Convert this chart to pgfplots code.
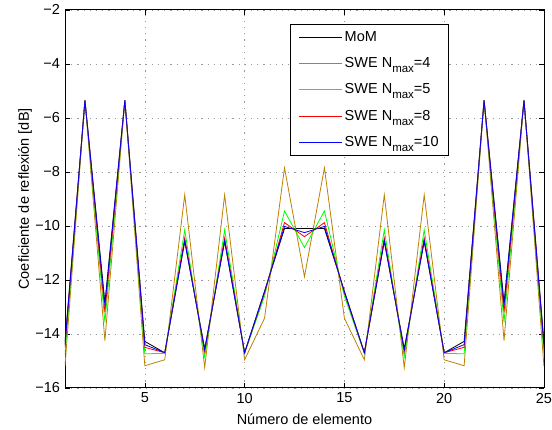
\documentclass[border=0pt]{standalone}
\usepackage{pgfplots}
\pgfplotsset{compat=1.18}
\usepackage{fontspec}
\setmainfont{Liberation Sans}
\definecolor{swefour}{RGB}{191,128,0}
\definecolor{swefive}{RGB}{0,255,0}
\definecolor{sweeight}{RGB}{255,0,0}
\definecolor{sweten}{RGB}{0,0,255}
\newcommand{\nmax}{N\raisebox{-5bp}{\fontsize{11.5bp}{12bp}\selectfont max}}
\begin{document}
\fontsize{14.5bp}{17bp}\selectfont
\begin{tikzpicture}
\begin{axis}[
  scale only axis,
  width=479bp, height=378bp,
  xmin=1, xmax=25, ymin=-16, ymax=-2,
  xtick={5,10,15,20,25},
  xticklabels={5,10,15,20,25},
  ytick={-16,-14,-12,-10,-8,-6,-4,-2},
  yticklabels={−16,−14,−12,−10,−8,−6,−4,−2},
  tick label style={font=\fontsize{14.5bp}{17bp}\selectfont},
  xticklabel style={inner xsep=0bp},
  label style={font=\fontsize{14.5bp}{17bp}\selectfont},
  xlabel={Número de elemento},
  ylabel={Coeficiente de reflexión [dB]},
  ylabel style={at={(axis description cs:0,0.5)}, anchor=south, yshift=28bp},
  xlabel style={yshift=-1bp},
  grid=major,
  major grid style={draw=gray!80, line width=0.6bp, dash pattern=on 1.2bp off 5bp},
  axis line style={line width=0.8bp},
  major tick length=5bp,
  tick style={line width=0.6bp, black},
  legend cell align=left,
  legend style={at={(0.8017,0.963)}, anchor=north east, draw=black, line width=0.8bp,
    font=\fontsize{14.5bp}{17bp}\selectfont, row sep=10bp, inner xsep=8bp, inner ysep=5bp},
  legend image code/.code={\draw[#1, line width=1.1bp] (0bp,0bp) -- (43bp,0bp);},
  every axis plot/.append style={line width=0.8bp},
]
\coordinate (O) at (rel axis cs:0,0);
\addplot[black] coordinates {
(1,-14.3)(2,-5.35)(3,-12.85)(4,-5.35)(5,-14.28)(6,-14.7)(7,-10.58)(8,-14.55)(9,-10.58)(10,-14.7)
(11,-12.42)(12,-10.1)(13,-10.1)(14,-10.1)(15,-12.42)(16,-14.7)(17,-10.58)(18,-14.55)(19,-10.58)(20,-14.7)
(21,-14.28)(22,-5.35)(23,-12.85)(24,-5.35)(25,-14.3)};
\addlegendentry{MoM}
\addplot[swefour] coordinates {
(1,-15.2)(2,-5.35)(3,-14.25)(4,-5.35)(5,-15.18)(6,-14.96)(7,-8.85)(8,-15.25)(9,-8.85)(10,-14.96)
(11,-13.42)(12,-7.85)(13,-11.88)(14,-7.85)(15,-13.42)(16,-14.96)(17,-8.85)(18,-15.25)(19,-8.85)(20,-14.96)
(21,-15.18)(22,-5.35)(23,-14.25)(24,-5.35)(25,-15.2)};
\addlegendentry{SWE \nmax=4}
\addplot[swefive] coordinates {
(1,-14.75)(2,-5.35)(3,-13.57)(4,-5.35)(5,-14.74)(6,-14.72)(7,-10.15)(8,-14.85)(9,-10.15)(10,-14.72)
(11,-12.6)(12,-9.45)(13,-10.8)(14,-9.45)(15,-12.6)(16,-14.72)(17,-10.15)(18,-14.85)(19,-10.15)(20,-14.72)
(21,-14.74)(22,-5.35)(23,-13.57)(24,-5.35)(25,-14.75)};
\addlegendentry{SWE \nmax=5}
\addplot[sweeight] coordinates {
(1,-14.5)(2,-5.35)(3,-13.2)(4,-5.35)(5,-14.5)(6,-14.7)(7,-10.45)(8,-14.65)(9,-10.45)(10,-14.7)
(11,-12.48)(12,-9.88)(13,-10.4)(14,-9.88)(15,-12.48)(16,-14.7)(17,-10.45)(18,-14.65)(19,-10.45)(20,-14.7)
(21,-14.5)(22,-5.35)(23,-13.2)(24,-5.35)(25,-14.5)};
\addlegendentry{SWE \nmax=8}
\addplot[sweten] coordinates {
(1,-14.4)(2,-5.35)(3,-12.95)(4,-5.35)(5,-14.4)(6,-14.7)(7,-10.55)(8,-14.6)(9,-10.55)(10,-14.7)
(11,-12.44)(12,-10.02)(13,-10.25)(14,-10.02)(15,-12.44)(16,-14.7)(17,-10.55)(18,-14.6)(19,-10.55)(20,-14.7)
(21,-14.4)(22,-5.35)(23,-12.95)(24,-5.35)(25,-14.4)};
\addlegendentry{SWE \nmax=10}
\end{axis}
\path (O) ++(-65bp,0bp);
\end{tikzpicture}
\end{document}
